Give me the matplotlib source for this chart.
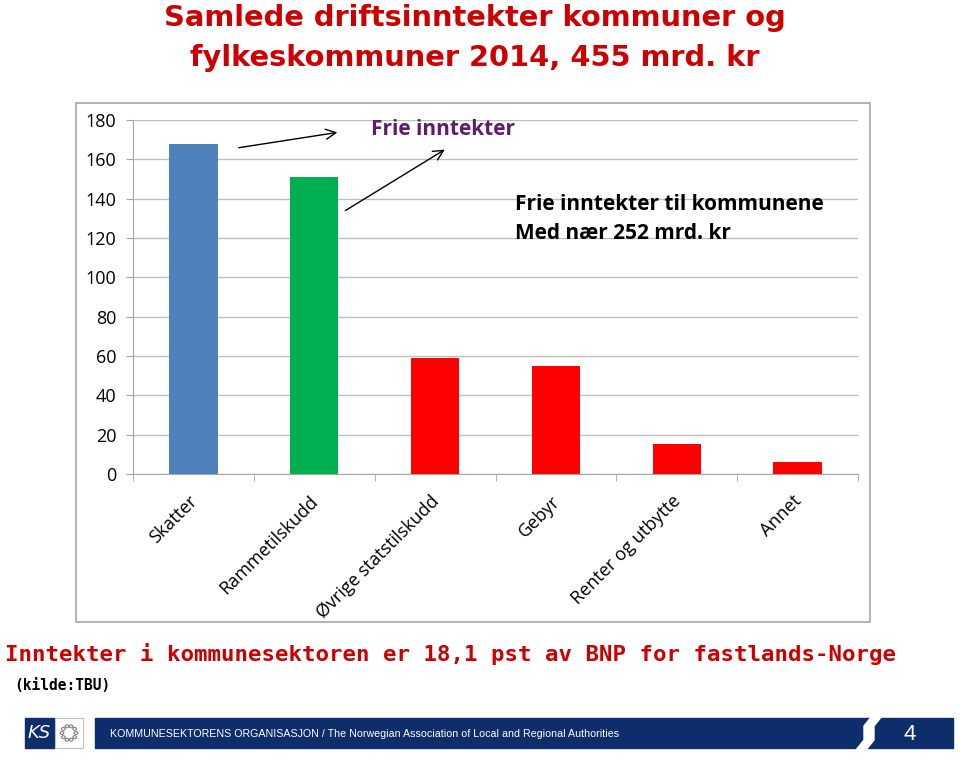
import matplotlib
matplotlib.use("Agg")
import matplotlib.pyplot as plt
from matplotlib.patches import Rectangle, Circle, Polygon
import matplotlib.transforms as mtrans
import numpy as np

categories = ["Skatter", "Rammetilskudd", "Øvrige statstilskudd", "Gebyr", "Renter og utbytte", "Annet"]
values = [168, 151, 59, 55, 15.5, 6]
bar_colors = ["#4F81BD", "#00B050", "#FF0000", "#FF0000", "#FF0000", "#FF0000"]
yticks = [0, 20, 40, 60, 80, 100, 120, 140, 160, 180]

title = "Samlede driftsinntekter kommuner og\nfylkeskommuner 2014, 455 mrd. kr"
subtitle = "Inntekter i kommunesektoren er 18,1 pst av BNP for fastlands-Norge"
source = "(kilde:TBU)"
label_frie = "Frie inntekter"
label_komm = "Frie inntekter til kommunene\nMed nær 252 mrd. kr"
footer_text = "KOMMUNESEKTORENS ORGANISASJON / The Norwegian Association of Local and Regional Authorities"

W, H = 960, 759
fig = plt.figure(figsize=(W / 100, H / 100), dpi=100)

def fx(px):
    return px / W

def fy(py):
    return 1 - py / H

# chart outer border
fig.patches.append(Rectangle((fx(76), fy(622)), fx(870) - fx(76), fy(103) - fy(622),
                             transform=fig.transFigure, fill=False, edgecolor="#A6A6A6", lw=1.2))

ax = fig.add_axes([fx(133), fy(474), fx(858) - fx(133), fy(120) - fy(474)])
x = np.arange(len(categories))
ax.bar(x, values, width=0.4, color=bar_colors, zorder=3)
ax.set_xlim(-0.5, len(categories) - 0.5)
ax.set_ylim(0, 180)
ax.set_yticks(yticks)
ax.set_yticklabels([str(t) for t in yticks], fontsize=13, family="Open Sans", color="#000000")
ax.yaxis.grid(True, color="#BFBFBF", lw=1, zorder=0)
ax.set_axisbelow(True)
for s in ["top", "right"]:
    ax.spines[s].set_visible(False)
ax.spines["left"].set_color("#A6A6A6")
ax.spines["bottom"].set_color("#A6A6A6")
ax.tick_params(axis="y", length=5, color="#A6A6A6", pad=7)
ax.set_xticks(np.arange(-0.5, len(categories) + 0.5, 1), minor=True)
ax.set_xticks(x)
ax.set_xticklabels(categories, rotation=45, ha="right", rotation_mode="anchor",
                   fontsize=13, family="Open Sans")
ax.tick_params(axis="x", which="major", length=0, pad=13)
ax.tick_params(axis="x", which="minor", length=5, color="#A6A6A6")
offset = mtrans.ScaledTranslation(-5 / 100, 0, fig.dpi_scale_trans)
for lbl in ax.get_xticklabels():
    lbl.set_transform(lbl.get_transform() + offset)

# annotations
ax.text(1.47, 175, label_frie, fontsize=15, fontweight="bold", color="#5F1C6B",
        family="Open Sans", va="center", ha="left")
ax.text(2.66, 129.6, label_komm, fontsize=15, fontweight="bold", color="#000000",
        family="Open Sans", va="center", ha="left", linespacing=1.5)
ax.annotate("", xy=(1.214, 173.9), xytext=(0.353, 165.7),
            arrowprops=dict(arrowstyle="->", color="black", lw=1, mutation_scale=18))
ax.annotate("", xy=(2.10, 165.7), xytext=(1.238, 133.2),
            arrowprops=dict(arrowstyle="->", color="black", lw=1, mutation_scale=18))

red = "#CC0000"
fig.text(fx(475), fy(38), title, ha="center", va="center", fontsize=20.8, fontweight="bold",
         color=red, family="DejaVu Sans", linespacing=1.55)
fig.text(fx(5), fy(654), subtitle, ha="left", va="center", fontsize=16.15, fontweight="bold",
         color=red, family="DejaVu Sans Mono")
fig.text(fx(14), fy(686), source, ha="left", va="center", fontsize=10.5, fontweight="bold",
         color="#000000", family="DejaVu Sans Mono")

# footer
navy = "#0E2D6B"
fig.patches.append(Rectangle((fx(25), fy(748)), fx(54) - fx(25), fy(718) - fy(748),
                             transform=fig.transFigure, color=navy))
fig.text(fx(39.5), fy(733), "KS", ha="center", va="center", fontsize=13, color="white",
         style="italic", family="DejaVu Sans")
fig.patches.append(Rectangle((fx(55), fy(748)), fx(83) - fx(55), fy(718) - fy(748),
                             transform=fig.transFigure, facecolor="white", edgecolor="#C0C0C0", lw=0.8))
for k in range(10):
    a = 2 * np.pi * k / 10
    fig.patches.append(Circle((fx(69 + 7 * np.cos(a)), fy(733 + 7 * np.sin(a))), 1.8 / W,
                              transform=fig.transFigure, facecolor="white", edgecolor="#808080", lw=0.8))
fig.patches.append(Rectangle((fx(95), fy(748)), fx(953) - fx(95), fy(718) - fy(748),
                             transform=fig.transFigure, color=navy))
# swoosh gap
fig.patches.append(Polygon([(fx(872), fy(716)), (fx(882), fy(716)), (fx(874), fy(726)),
                            (fx(874), fy(740)), (fx(866), fy(750)), (fx(856), fy(750)),
                            (fx(864), fy(740)), (fx(864), fy(726))],
                           closed=True, transform=fig.transFigure, color="white"))
fig.text(fx(110), fy(734), footer_text, ha="left", va="center", fontsize=7.65, color="white",
         family="Liberation Sans")
fig.text(fx(910), fy(734), "4", ha="center", va="center", fontsize=16, color="white",
         family="Liberation Sans")

fig.savefig("out.png", dpi=100)
